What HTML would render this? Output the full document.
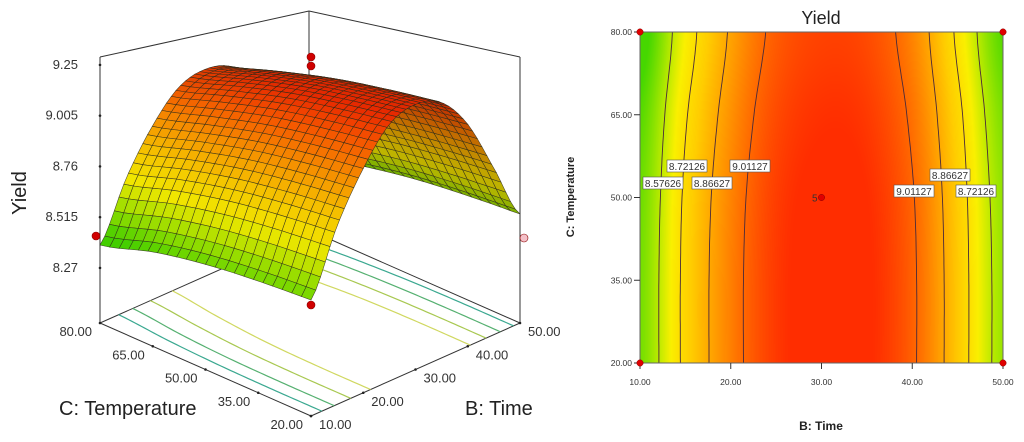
<!DOCTYPE html>
<html><head><meta charset="utf-8">
<style>
html,body{margin:0;padding:0;background:#fff;}
#wrap{position:relative;width:1024px;height:442px;overflow:hidden;font-family:"Liberation Sans",sans-serif;}
canvas,svg{position:absolute;left:0;top:0;}
</style></head>
<body>
<div id="wrap">
<canvas id="heat" width="1024" height="442"></canvas>
<svg id="svg" width="1024" height="442" xmlns="http://www.w3.org/2000/svg"></svg>
</div>
<script>
// ---- data ----
const timeVals = [10,15,20,25,30,35,40,45,50];
const tempVals = [20,35,50,65,80];
const yieldC20 = [8.48,8.75,8.96,9.12,9.18,9.16,9.03,8.79,8.53];
const yieldC35 = [8.48,8.75,8.96,9.12,9.18,9.16,9.03,8.79,8.53];
const yieldC50 = [8.47,8.74,8.95,9.11,9.17,9.15,9.02,8.78,8.52];
const yieldC65 = [8.44,8.71,8.92,9.08,9.14,9.12,8.99,8.75,8.49];
const yieldC80 = [8.38,8.66,8.88,9.04,9.10,9.08,8.95,8.70,8.44];
const contourLevels = [8.57626,8.72126,8.86627,9.01127];
const zTicks = ["9.25","9.005","8.76","8.515","8.27"];
const zTickVals = [9.25,9.005,8.76,8.515,8.27];
const tempTicks = [20,35,50,65,80];
const timeTicks = [10,20,30,40,50];

const grid=[yieldC20,yieldC35,yieldC50,yieldC65,yieldC80];
const NS="http://www.w3.org/2000/svg";
const svg=document.getElementById('svg');
function mk(tag,attrs,parent){const e=document.createElementNS(NS,tag);for(const k in attrs)e.setAttribute(k,attrs[k]);(parent||svg).appendChild(e);return e;}

function cr(p0,p1,p2,p3,t){return 0.5*((2*p1)+(-p0+p2)*t+(2*p0-5*p1+4*p2-p3)*t*t+(-p0+3*p1-3*p2+p3)*t*t*t);}
function interp1(arr,xs,x){
  const n=xs.length;let i=0;while(i<n-2&&x>xs[i+1])i++;
  const t=(x-xs[i])/(xs[i+1]-xs[i]);
  const a=arr[Math.max(i-1,0)],b=arr[i],c=arr[i+1],d=arr[Math.min(i+2,n-1)];
  return cr(a,b,c,d,t);
}
function Y(B,C){const rows=grid.map(r=>interp1(r,timeVals,B));return interp1(rows,tempVals,C);}

// colormap
const cStops=[[8.42,[70,215,0]],[8.55,[170,232,0]],[8.66,[250,240,0]],[8.78,[255,205,0]],[8.90,[255,155,0]],[9.01,[255,105,0]],[9.15,[255,45,0]]];
function col(v,sh){sh=sh||1;let c=cStops[0][1];
  if(v>=cStops[cStops.length-1][0])c=cStops[cStops.length-1][1];
  else for(let i=0;i<cStops.length-1;i++){if(v>=cStops[i][0]&&v<cStops[i+1][0]){const t=(v-cStops[i][0])/(cStops[i+1][0]-cStops[i][0]);c=cStops[i][1].map((q,k)=>q+(cStops[i+1][1][k]-q)*t);break;}}
  return c.map(q=>Math.round(q*sh));}
function css(c){return 'rgb('+c.join(',')+')';}

function crossings(level,C){const res=[];let pb=10,pv=Y(10,C);
  for(let B=10.1;B<=50.0001;B+=0.1){const v=Y(B,C);if((pv-level)*(v-level)<0){res.push(pb+(level-pv)/(v-pv)*(B-pb));}pb=B;pv=v;}return res;}

// ================= 3D surface =================
const zmin=8.004,zmax=9.288;
function P(B,C,Yv){const t=(B-10)/40,s=(C-20)/60;
  let x=311+t*(520-311)+s*(100-311);let y=416+t*(323-416)+s*(323-416);
  const d=(t+s)/2,H=313-94*d;y-=(Yv-zmin)/(zmax-zmin)*H;return [x,y];}
const g3=mk('g',{});


function line(p,q,attrs,par){return mk('line',Object.assign({x1:p[0],y1:p[1],x2:q[0],y2:q[1]},attrs),par);}
const bx={stroke:'#333','stroke-width':1};
let e;
e=line(P(50,80,zmin),P(50,80,zmax),bx,g3);
e=line(P(10,80,zmin),P(50,80,zmin),bx,g3);
e=line(P(50,20,zmin),P(50,80,zmin),bx,g3);
e=line(P(10,80,zmax),P(50,80,zmax),bx,g3);
e=line(P(50,20,zmax),P(50,80,zmax),bx,g3);
e=line(P(10,80,zmin),P(10,80,zmax),bx,g3);
e=line(P(50,20,zmin),P(50,20,zmax),bx,g3);
e=line(P(10,20,zmin),P(10,80,zmin),bx,g3);
e=line(P(10,20,zmin),P(50,20,zmin),bx,g3);
const floorCols=['#3aa890','#55b070','#a8c850','#d0d860'];
contourLevels.forEach((lv,li)=>{
  const L=[],R=[];
  for(let C=20;C<=80;C+=1){const cs=crossings(lv,C);if(cs.length>=1)L.push(P(cs[0],C,zmin));if(cs.length>=2)R.push(P(cs[cs.length-1],C,zmin));}
  [L,R].forEach(arr=>{if(arr.length>1){const pl=mk('polyline',{points:arr.map(p=>p.join(',')).join(' '),fill:'none',stroke:floorCols[li],'stroke-width':1.2},g3);
    }});
});
const NB=44,NC=22,quads=[];
for(let i=0;i<NB;i++)for(let j=0;j<NC;j++){
  const B0=10+40*i/NB,B1=10+40*(i+1)/NB,C0=20+60*j/NC,C1=20+60*(j+1)/NC;
  const v00=Y(B0,C0),v10=Y(B1,C0),v11=Y(B1,C1),v01=Y(B0,C1);
  const slope=(v10-v00)/(B1-B0);
  quads.push({d:(i+0.5)/NB+(j+0.5)/NC,pts:[P(B0,C0,v00),P(B1,C0,v10),P(B1,C1,v11),P(B0,C1,v01)],v:(v00+v10+v11+v01)/4,sl:slope});
}
quads.sort((a,b)=>b.d-a.d);
const gs=mk('g',{},g3);


quads.forEach(q=>{const sh=0.86+Math.max(-0.1,Math.min(0.1,q.sl*3));
  const p=mk('polygon',{points:q.pts.map(p=>p[0].toFixed(1)+','+p[1].toFixed(1)).join(' '),fill:css(col(q.v,sh)),stroke:'#2a2a1a','stroke-width':0.55,'stroke-opacity':0.85},gs);
  });
zTickVals.forEach((v,i)=>{const p=P(10,80,v);
  const d=mk('circle',{cx:p[0],cy:p[1],r:1.3,fill:'#222'},g3);
  const t=mk('text',{x:78,y:p[1]+4,'text-anchor':'end','font-size':13,fill:'#333'},g3);t.textContent=zTicks[i];
  });
tempTicks.forEach(v=>{const p=P(10,v,zmin);
  const d=mk('circle',{cx:p[0],cy:p[1],r:1.3,fill:'#222'},g3);
  const t=mk('text',{x:p[0]-8,y:p[1]+13,'text-anchor':'end','font-size':13,fill:'#333'},g3);t.textContent=v.toFixed(2);
  });
timeTicks.forEach(v=>{const p=P(v,20,zmin);
  const d=mk('circle',{cx:p[0],cy:p[1],r:1.3,fill:'#222'},g3);
  const t=mk('text',{x:p[0]+8,y:p[1]+13,'text-anchor':'start','font-size':13,fill:'#333'},g3);t.textContent=v.toFixed(2);
  });
[[96,236,'#d00000'],[311,57,'#d00000'],[311,66,'#d00000'],[311,305,'#d00000'],[524,238,'#f4c0c8']].forEach(d=>{
  const c=mk('circle',{cx:d[0],cy:d[1],r:4,fill:d[2],stroke:'#800','stroke-width':0.6},g3);
  });
let tx;
tx=mk('text',{x:0,y:0,transform:'translate(26,193) rotate(-90)','text-anchor':'middle','font-size':20,fill:'#222'},g3);tx.textContent='Yield';

tx=mk('text',{x:59,y:415,'font-size':20,fill:'#222'},g3);tx.textContent='C: Temperature';

tx=mk('text',{x:465,y:415,'font-size':20,fill:'#222'},g3);tx.textContent='B: Time';


// ================= contour plot =================
const X0=640,X1=1003,Y0=32,Y1=363;
const sx=B=>X0+(B-10)/40*(X1-X0), sy=C=>Y1-(C-20)/60*(Y1-Y0);
const cv=document.getElementById('heat').getContext('2d');
const img=cv.createImageData(X1-X0,Y1-Y0);
for(let py=0;py<Y1-Y0;py++){const C=80-(py+0.5)/(Y1-Y0)*60;
  for(let px=0;px<X1-X0;px++){const B=10+(px+0.5)/(X1-X0)*40;const c=col(Y(B,C));const k=(py*(X1-X0)+px)*4;img.data[k]=c[0];img.data[k+1]=c[1];img.data[k+2]=c[2];img.data[k+3]=255;}}
cv.putImageData(img,X0,Y0);
const g2=mk('g',{});


contourLevels.forEach(lv=>{const L=[],R=[];
  for(let C=20;C<=80.001;C+=1){const cs=crossings(lv,C);if(cs.length>=1)L.push([sx(cs[0]),sy(C)]);if(cs.length>=2)R.push([sx(cs[cs.length-1]),sy(C)]);}
  [L,R].forEach(arr=>{if(arr.length>1){const pl=mk('polyline',{points:arr.map(p=>p[0].toFixed(1)+','+p[1].toFixed(1)).join(' '),fill:'none',stroke:'#4a2a3a','stroke-width':0.9},g2);
    }});
});
e=mk('rect',{x:X0,y:Y0,width:X1-X0,height:Y1-Y0,fill:'none',stroke:'#666','stroke-width':1},g2);

tempTicks.forEach(v=>{const y=sy(v);
  const l=line([X0-6,y],[X0,y],{stroke:'#333'},g2);
  const t=mk('text',{x:X0-8,y:y+3,'text-anchor':'end','font-size':8.5,fill:'#333'},g2);t.textContent=v.toFixed(2);
  });
timeTicks.forEach(v=>{const x=sx(v);
  const l=line([x,Y1],[x,Y1+6],{stroke:'#333'},g2);
  const t=mk('text',{x:x,y:Y1+22,'text-anchor':'middle','font-size':8.5,fill:'#333'},g2);t.textContent=v.toFixed(2);
  });
[["8.72126",667,160],["9.01127",730,160],["8.57626",643,177],["8.86627",692,177],["8.86627",930,169],["9.01127",894,185],["8.72126",956,185]].forEach(d=>{
  const r=mk('rect',{x:d[1],y:d[2],width:40,height:12,fill:'#fff',stroke:'#555','stroke-width':0.6},g2);
  
  const t=mk('text',{x:d[1]+20,y:d[2]+10,'text-anchor':'middle','font-size':10,fill:'#333'},g2);t.textContent=d[0];
  });
[[10,20],[10,80],[50,20],[50,80],[30,50]].forEach(d=>{
  const c=mk('circle',{cx:sx(d[0]),cy:sy(d[1]),r:3.2,fill:'#e00000',stroke:'#800','stroke-width':0.5},g2);
  });
tx=mk('text',{x:sx(30)-4,y:sy(50)+4,'text-anchor':'end','font-size':10,fill:'#333'},g2);tx.textContent='5';

tx=mk('text',{x:821,y:24,'text-anchor':'middle','font-size':18,fill:'#222'},g2);tx.textContent='Yield';

tx=mk('text',{x:821,y:430,'text-anchor':'middle','font-size':12,'font-weight':'bold',fill:'#222'},g2);tx.textContent='B: Time';

tx=mk('text',{x:0,y:0,transform:'translate(574,197) rotate(-90)','text-anchor':'middle','font-size':11,'font-weight':'bold',fill:'#222'},g2);tx.textContent='C: Temperature';

</script>
</body></html>
